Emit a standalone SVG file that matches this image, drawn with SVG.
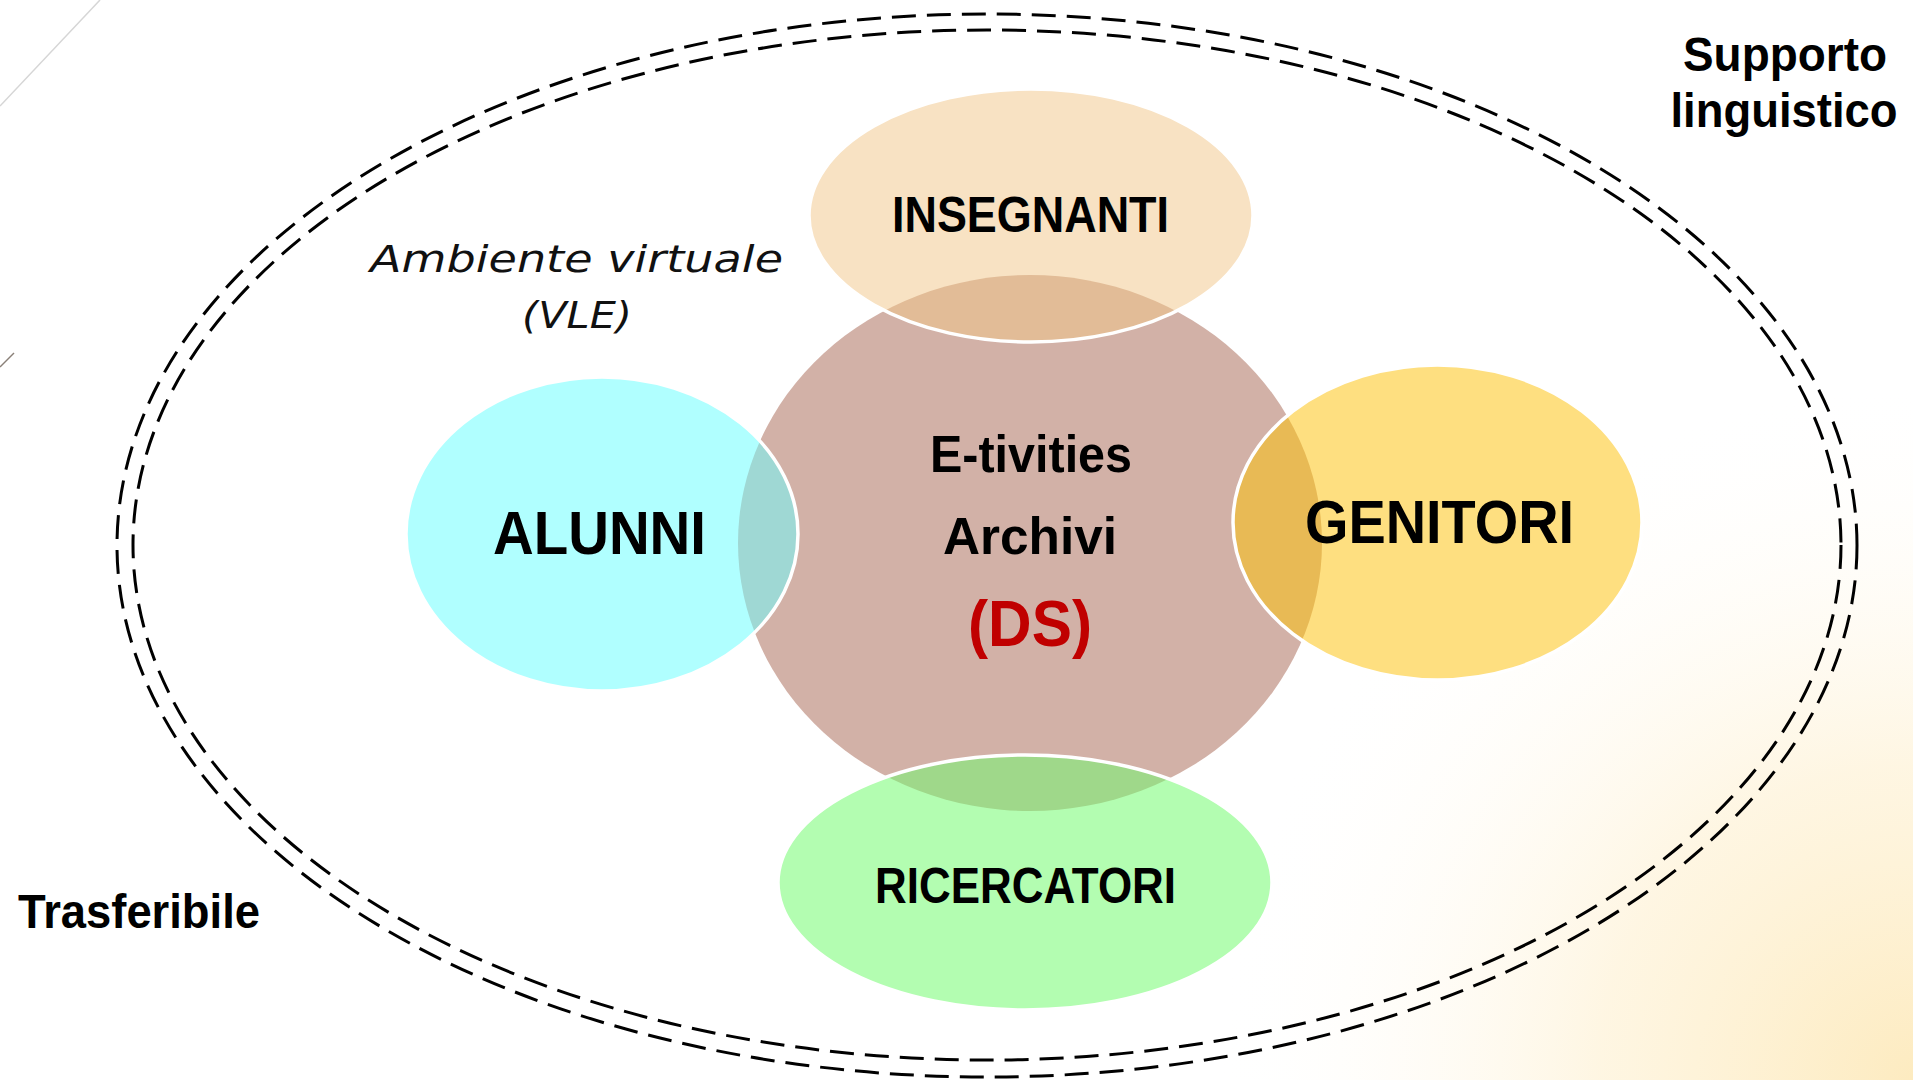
<svg xmlns="http://www.w3.org/2000/svg" width="1913" height="1080" viewBox="0 0 1913 1080">
  <defs>
    <radialGradient id="bgGlow" cx="1913" cy="1080" r="700" gradientUnits="userSpaceOnUse">
      <stop offset="0" stop-color="#FDEBC0" stop-opacity="1"/>
      <stop offset="0.45" stop-color="#FEF2D6" stop-opacity="0.7"/>
      <stop offset="1" stop-color="#FFFFFF" stop-opacity="0"/>
    </radialGradient>
    <clipPath id="brownClip">
      <ellipse cx="1030" cy="543" rx="292" ry="268"/>
    </clipPath>
    <style>
      .dash { fill: none; stroke: #000; stroke-width: 3; stroke-dasharray: 24 11; }
      .rim { fill: none; stroke: #FFFFFF; stroke-width: 3.5; }
      .lbl { font-family: "Liberation Sans", "DejaVu Sans", sans-serif; font-weight: bold; fill: #000; text-anchor: middle; }
      .note { font-family: "DejaVu Sans", "Liberation Sans", sans-serif; font-style: italic; font-weight: normal; fill: #111; text-anchor: middle; }
    </style>
  </defs>

  <rect x="0" y="0" width="1913" height="1080" fill="#FFFFFF"/>
  <rect x="0" y="0" width="1913" height="1080" fill="url(#bgGlow)"/>
  <line x1="100" y1="0" x2="0" y2="106" stroke="#D6D6D6" stroke-width="1.5"/>
  <line x1="14" y1="353" x2="0" y2="367" stroke="#8A8078" stroke-width="1.5"/>

  <g id="boundary">
    <ellipse class="dash" cx="987" cy="545.5" rx="870" ry="531.5"/>
    <ellipse class="dash" cx="987" cy="545" rx="854" ry="515"/>
  </g>

  <g id="ds-center">
    <ellipse cx="1030" cy="543" rx="292" ry="268" fill="#D2B1A7"/>
  </g>

  <g id="insegnanti">
    <ellipse cx="1031" cy="215.5" rx="222" ry="126.5" fill="#F8E2C3"/>
    <ellipse cx="1031" cy="215.5" rx="222" ry="126.5" fill="#E2BC97" clip-path="url(#brownClip)"/>
    <ellipse class="rim" cx="1031" cy="215.5" rx="222" ry="126.5"/>
    <text class="lbl" x="1030.5" y="232" font-size="50" textLength="277" lengthAdjust="spacingAndGlyphs">INSEGNANTI</text>
  </g>

  <g id="alunni">
    <ellipse cx="602" cy="534" rx="196" ry="157" fill="#B0FFFF"/>
    <ellipse cx="602" cy="534" rx="196" ry="157" fill="#9FD8D4" clip-path="url(#brownClip)"/>
    <ellipse class="rim" cx="602" cy="534" rx="196" ry="157"/>
    <text class="lbl" x="599.5" y="554" font-size="61" textLength="213" lengthAdjust="spacingAndGlyphs">ALUNNI</text>
  </g>

  <g id="genitori">
    <ellipse cx="1437.5" cy="522.5" rx="204.5" ry="157.5" fill="#FEDF80"/>
    <ellipse cx="1437.5" cy="522.5" rx="204.5" ry="157.5" fill="#E8BA55" clip-path="url(#brownClip)"/>
    <ellipse class="rim" cx="1437.5" cy="522.5" rx="204.5" ry="157.5"/>
    <text class="lbl" x="1439.5" y="543" font-size="62" textLength="269" lengthAdjust="spacingAndGlyphs">GENITORI</text>
  </g>

  <g id="ricercatori">
    <ellipse cx="1025" cy="882.5" rx="247" ry="127.5" fill="#B3FDB1"/>
    <ellipse cx="1025" cy="882.5" rx="247" ry="127.5" fill="#9FD88A" clip-path="url(#brownClip)"/>
    <ellipse class="rim" cx="1025" cy="882.5" rx="247" ry="127.5"/>
    <text class="lbl" x="1025.5" y="903" font-size="50" textLength="301" lengthAdjust="spacingAndGlyphs">RICERCATORI</text>
  </g>

  <g id="ds-labels">
    <text class="lbl" x="1031" y="472" font-size="52" textLength="202" lengthAdjust="spacingAndGlyphs">E-tivities</text>
    <text class="lbl" x="1030" y="554" font-size="52" textLength="174" lengthAdjust="spacingAndGlyphs">Archivi</text>
    <text class="lbl" x="1030" y="646" font-size="64" style="fill:#C00000" textLength="124" lengthAdjust="spacingAndGlyphs">(DS)</text>
  </g>

  <g id="vle-label">
    <text class="note" x="576.5" y="272" font-size="38" textLength="413" lengthAdjust="spacingAndGlyphs">Ambiente virtuale</text>
    <text class="note" x="577" y="328" font-size="38" textLength="110" lengthAdjust="spacingAndGlyphs">(VLE)</text>
  </g>

  <g id="supporto">
    <text class="lbl" x="1785" y="71" font-size="48" textLength="204" lengthAdjust="spacingAndGlyphs">Supporto</text>
    <text class="lbl" x="1784" y="127" font-size="48" textLength="227" lengthAdjust="spacingAndGlyphs">linguistico</text>
  </g>

  <g id="trasferibile">
    <text class="lbl" x="139" y="928" font-size="48" textLength="242" lengthAdjust="spacingAndGlyphs">Trasferibile</text>
  </g>
</svg>
